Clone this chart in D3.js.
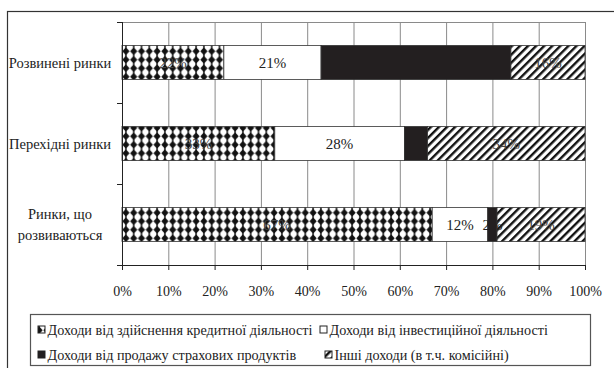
<!DOCTYPE html>
<html><head><meta charset="utf-8">
<script src="https://cdn.jsdelivr.net/npm/d3@7"></script>
<style>body{margin:0;background:#fff}svg{display:block}text{font-family:"Liberation Serif","Times New Roman",serif}</style>
</head><body>
<script>
const categories = ["Розвинені ринки", "Перехідні ринки", "Ринки, що розвиваються"];
const categoryLines = [["Розвинені ринки"], ["Перехідні ринки"], ["Ринки, що", "розвиваються"]];
const seriesNames = ["Доходи від здійснення кредитної діяльності", "Доходи від інвестиційної діяльності", "Доходи від продажу страхових продуктів", "Інші доходи (в т.ч. комісійні)"];
const credit = [22, 33, 67];
const investment = [21, 28, 12];
const insurance = [41, 5, 2];
const other = [16, 34, 19];
const xTicks = [0, 0.1, 0.2, 0.3, 0.4, 0.5, 0.6, 0.7, 0.8, 0.9, 1];

const W = 614, H = 368;
const svg = d3.select("body").append("svg").attr("width", W).attr("height", H);
const defs = svg.append("defs");
// diamond pattern
const pd = defs.append("pattern").attr("id", "pDiamond").attr("patternUnits", "userSpaceOnUse")
  .attr("width", 7.8).attr("height", 8.5).attr("x", 122).attr("y", 47);
pd.append("rect").attr("width", 7.8).attr("height", 8.5).attr("fill", "#fff");
pd.append("path").attr("d", "M3.9,0.3 L7.5,4.25 L3.9,8.2 L0.3,4.25 Z").attr("fill", "#111");
pd.append("line").attr("x1", 3.9).attr("x2", 3.9).attr("y1", 0).attr("y2", 8.5).attr("stroke", "#111").attr("stroke-width", 1.4);
// hatch pattern
const ph = defs.append("pattern").attr("id", "pHatch").attr("patternUnits", "userSpaceOnUse")
  .attr("width", 5.7).attr("height", 5.7).attr("patternTransform", "rotate(45)");
ph.append("rect").attr("width", 5.7).attr("height", 5.7).attr("fill", "#fff");
ph.append("rect").attr("x", 0).attr("width", 2.4).attr("height", 5.7).attr("fill", "#111");

const fills = ["url(#pDiamond)", "#fff", "#231f20", "url(#pHatch)"];
const labelColors = ["#444", "#222", "#231f20", "#444"];

// outer frame
svg.append("rect").attr("x", 7.5).attr("y", 11.5).attr("width", 610).attr("height", 365)
  .attr("fill", "none").attr("stroke", "#333").attr("stroke-width", 1.2);

const x = d3.scaleLinear().domain([0, 1]).range([122, 585]);
const y = d3.scaleBand().domain(categories).range([22, 265]).paddingInner(0.58).paddingOuter(0.29);

// gridlines
svg.append("g").selectAll("line").data(xTicks.slice(1)).join("line")
  .attr("x1", d => x(d) + 0.5).attr("x2", d => x(d) + 0.5).attr("y1", 22).attr("y2", 265)
  .attr("stroke", "#8a8a8a").attr("stroke-width", 1);
svg.append("line").attr("x1", 122).attr("x2", 585).attr("y1", 22.5).attr("y2", 22.5).attr("stroke", "#8a8a8a");

// bars
const data = categories.map((c, i) => ({ c, vals: [credit[i], investment[i], insurance[i], other[i]] }));
const stack = [];
data.forEach(d => {
  let acc = 0;
  d.vals.forEach((v, k) => { stack.push({ c: d.c, k, v, x0: acc / 100, x1: (acc + v) / 100 }); acc += v; });
});
svg.append("g").selectAll("rect").data(stack).join("rect")
  .attr("x", d => x(d.x0)).attr("width", d => x(d.x1) - x(d.x0))
  .attr("y", d => y(d.c)).attr("height", y.bandwidth())
  .attr("fill", d => fills[d.k]).attr("stroke", "#333").attr("stroke-width", 0.8);
svg.append("g").selectAll("text").data(stack).join("text")
  .attr("x", d => x((d.x0 + d.x1) / 2)).attr("y", d => y(d.c) + y.bandwidth() / 2 + 5)
  .attr("text-anchor", "middle").attr("font-size", 15).attr("fill", d => labelColors[d.k])
  .text(d => d.v + "%");

// axes
const xAxis = svg.append("g").attr("transform", "translate(0,265)")
  .call(d3.axisBottom(x).tickValues(xTicks).tickFormat(d3.format(".0%")).tickSize(5).tickPadding(16));
xAxis.select(".domain").attr("stroke", "#222");
xAxis.selectAll(".tick line").attr("stroke", "#222");
xAxis.selectAll("text").attr("font-size", 14).attr("font-family", "Liberation Serif").attr("fill", "#222");

svg.append("line").attr("x1", 117).attr("x2", 122).attr("y1", 265.5).attr("y2", 265.5).attr("stroke", "#222");
const yTicks = [22, 22 + y.step(), 22 + 2 * y.step(), 265];
svg.append("line").attr("x1", 122.5).attr("x2", 122.5).attr("y1", 22).attr("y2", 265).attr("stroke", "#222");
svg.append("g").selectAll("line").data(yTicks).join("line")
  .attr("x1", 117).attr("x2", 122).attr("y1", d => d + 0.5).attr("y2", d => d + 0.5).attr("stroke", "#222");

// category labels
svg.append("g").selectAll("text").data(categories).join("text")
  .attr("text-anchor", "middle").attr("font-size", 14.5).attr("fill", "#222")
  .each(function (c, i) {
    const lines = categoryLines[i];
    const cy = y(c) + y.bandwidth() / 2;
    const t = d3.select(this);
    lines.forEach((l, j) => {
      t.append("tspan").attr("x", 60).attr("y", cy + 5 + (j - (lines.length - 1) / 2) * 21).text(l);
    });
  });

// legend
svg.append("rect").attr("x", 30.5).attr("y", 314.5).attr("width", 560).attr("height", 51)
  .attr("fill", "none").attr("stroke", "#555").attr("stroke-width", 1.2);
const legendPos = [[38, 330], [320, 330], [38, 355], [325, 355]];
const lg = svg.append("g").selectAll("g").data(seriesNames).join("g")
  .attr("transform", (d, i) => `translate(${legendPos[i][0]},${legendPos[i][1]})`);
lg.append("rect").attr("x", 0).attr("y", -4).attr("width", 7).attr("height", 7)
  .attr("fill", (d, i) => fills[i]).attr("stroke", "#222").attr("stroke-width", 1);
lg.append("text").attr("x", 9.5).attr("y", 4.5).attr("font-size", 14.2).attr("fill", "#222").text(d => d);
</script>
</body></html>
